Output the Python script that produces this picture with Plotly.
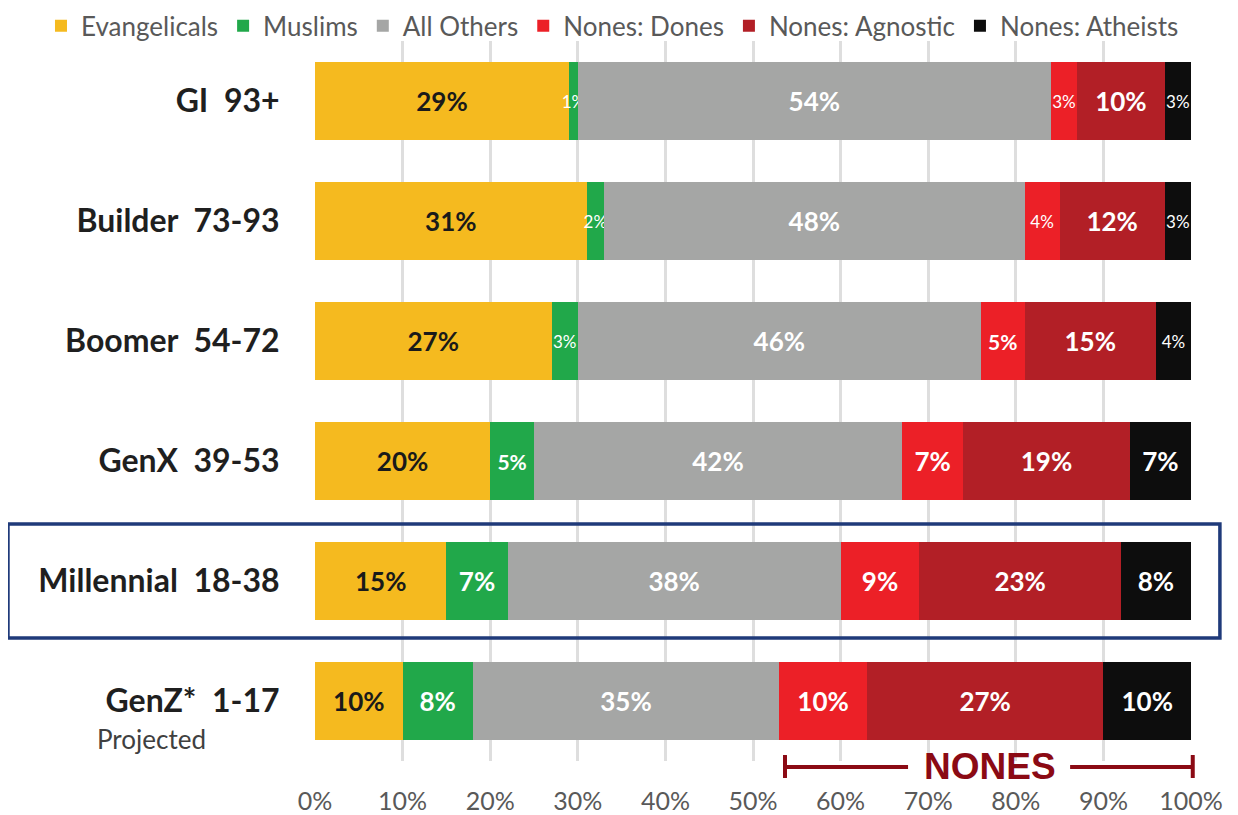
import plotly.graph_objects as go

NB = "\u00a0"
categories = [f"GI{NB} 93+", f"Builder{NB} 73-93", f"Boomer{NB} 54-72",
              f"GenX{NB} 39-53", f"Millennial{NB} 18-38", f"GenZ*{NB} 1-17"]
series_names = ["Evangelicals", "Muslims", "All Others",
                "Nones: Dones", "Nones: Agnostic", "Nones: Atheists"]
evangelicals = [29, 31, 27, 20, 15, 10]
muslims = [1, 2, 3, 5, 7, 8]
all_others = [54, 48, 46, 42, 38, 35]
nones_dones = [3, 4, 5, 7, 9, 10]
nones_agnostic = [10, 12, 15, 19, 23, 27]
nones_atheists = [3, 3, 4, 7, 8, 10]
x_ticks = [0, 10, 20, 30, 40, 50, 60, 70, 80, 90, 100]
x_tick_labels = [f"{v}%" for v in x_ticks]

series_values = [evangelicals, muslims, all_others, nones_dones, nones_agnostic, nones_atheists]
colors = ["#F5BA1F", "#21A84A", "#A5A6A5", "#EC2027", "#B21F26", "#0D0D0D"]
text_colors = ["#1A1A1A", "white", "white", "white", "white", "white"]

FONT = "Lato"

def sizes(vals):
    out = []
    for v in vals:
        if v <= 4:
            out.append(17)
        elif v == 5:
            out.append(21)
        else:
            out.append(26)
    return out

fig = go.Figure()
for name, vals, col, tcol in zip(series_names, series_values, colors, text_colors):
    sz = sizes(vals)
    fig.add_trace(go.Bar(
        y=categories, x=vals, name=name, orientation="h",
        marker=dict(color=col, line=dict(width=0)),
        text=[f"<b>{v}%</b>" if s > 17 else f"{v}%" for v, s in zip(vals, sz)],
        textposition="inside", insidetextanchor="middle",
        textangle=0, constraintext="none",
        textfont=dict(color=tcol, size=sz, family=FONT),
        width=0.65, hoverinfo="skip",
    ))

# page body has an 8px margin, so the figure is laid out 8px up/left
fig.update_layout(
    width=1238, height=815,
    barmode="stack",
    plot_bgcolor="white", paper_bgcolor="white",
    margin=dict(l=307, r=55, t=33, b=62, autoexpand=False),
    font=dict(family=FONT, color="#595959"),
    showlegend=True,
    legend=dict(orientation="h", x=-0.3128, xanchor="left", y=1.021, yanchor="middle",
                font=dict(size=26, color="#595959", family=FONT),
                traceorder="normal", itemwidth=30, bgcolor="rgba(0,0,0,0)"),
    xaxis=dict(range=[0, 100], tickvals=x_ticks, ticktext=x_tick_labels,
               showgrid=True, gridcolor="#DEDEDE", gridwidth=2.5,
               zeroline=False, showline=False, automargin=False,
               ticks="outside", ticklen=18, tickcolor="rgba(0,0,0,0)",
               tickfont=dict(size=25, color="#595959", family=FONT), fixedrange=True),
    yaxis=dict(categoryorder="array", categoryarray=categories, automargin=False,
               range=[5.5, -0.5], showgrid=False, zeroline=False, showline=False,
               ticks="outside", ticklen=28, tickcolor="rgba(0,0,0,0)",
               tickfont=dict(size=32, color="#1F1F1F", family=FONT, weight="bold")),
)

# Millennial highlight box
fig.add_shape(type="rect", xref="paper", yref="paper",
              x0=-0.3505, x1=1.033, y0=0.171, y1=0.329,
              line=dict(color="#1F3A7A", width=3.5), fillcolor="rgba(0,0,0,0)")

# NONES bracket
bc = "#8B0A14"
ybr = -0.0083
xl, xr = 0.5365, 1.002
gap_l, gap_r = 0.677, 0.862
fig.add_shape(type="line", xref="paper", yref="paper", x0=xl, x1=gap_l, y0=ybr, y1=ybr,
              line=dict(color=bc, width=4))
fig.add_shape(type="line", xref="paper", yref="paper", x0=gap_r, x1=xr, y0=ybr, y1=ybr,
              line=dict(color=bc, width=4))
for xx in (xl, xr):
    fig.add_shape(type="line", xref="paper", yref="paper", x0=xx, x1=xx, y0=0.0083, y1=-0.0236,
                  line=dict(color=bc, width=4))
fig.add_annotation(xref="paper", yref="paper", x=0.7705, y=ybr, text="<b>NONES</b>",
                   showarrow=False, font=dict(family="Liberation Sans", size=37, color=bc),
                   xanchor="center", yanchor="middle")

fig.add_annotation(xref="paper", yref="paper", x=-0.2511, y=0.0306, text="Projected",
                   showarrow=False, xanchor="left", yanchor="middle",
                   font=dict(family=FONT, size=26, color="#404040"))

fig.write_html("out.html")
